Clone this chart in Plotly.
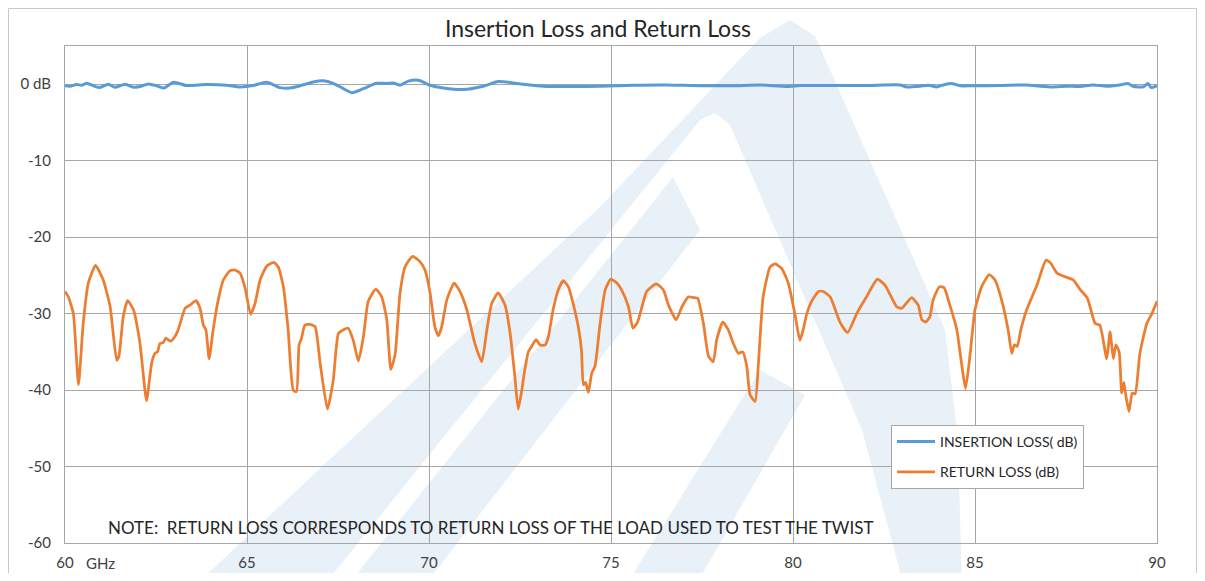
import plotly.graph_objects as go

# ---------------- data ----------------
il_freq = [60.00, 60.14, 60.32, 60.46, 60.60, 60.78, 60.96, 61.19, 61.37, 61.65, 61.88, 62.06,
           62.29, 62.52, 62.72, 62.98, 63.34, 63.89, 64.44, 64.81, 65.17, 65.54, 65.91, 66.18,
           66.46, 66.82, 67.10, 67.37, 67.60, 67.88, 68.20, 68.56, 68.84, 69.02, 69.20, 69.43,
           69.71, 70.03, 70.39, 70.94, 71.49, 71.90, 72.41, 73.14, 73.96, 74.70, 75.61, 76.53,
           77.45, 78.37, 79.09, 79.83, 80.19, 81.10, 82.02, 82.94, 83.12, 83.49, 83.72, 83.95,
           84.13, 84.36, 84.59, 84.95, 85.69, 86.42, 86.79, 87.15, 87.52, 87.88, 88.25, 88.61,
           88.98, 89.20, 89.34, 89.62, 89.75, 89.84, 90.00]
il_db = [-0.20, -0.26, -0.04, -0.13, 0.13, -0.20, -0.44, 0.00, -0.40, 0.00, -0.40, -0.30,
         0.04, -0.20, -0.50, 0.26, -0.17, -0.04, -0.13, -0.35, -0.17, 0.26, -0.44, -0.50,
         -0.20, 0.30, 0.44, 0.10, -0.44, -1.10, -0.57, 0.13, 0.10, 0.17, -0.13, 0.40,
         0.52, -0.13, -0.48, -0.70, -0.26, 0.35, 0.10, -0.26, -0.30, -0.26, -0.13, -0.09,
         -0.20, -0.20, -0.09, -0.30, -0.17, -0.17, -0.17, -0.09, -0.35, -0.26, -0.13, -0.35,
         -0.09, 0.09, -0.20, -0.20, -0.17, -0.09, -0.26, -0.35, -0.26, -0.30, -0.09, -0.26,
         -0.09, 0.09, -0.26, -0.35, 0.09, -0.44, -0.17]

rl_freq = [60.00, 60.09, 60.23, 60.37, 60.50, 60.64, 60.84, 61.05, 61.24, 61.42, 61.48, 61.60,
           61.72, 61.88, 62.06, 62.24, 62.38, 62.47, 62.54, 62.61, 62.70, 62.77, 62.90, 63.02,
           63.11, 63.30, 63.43, 63.60, 63.71, 63.80, 63.87, 63.96, 64.07, 64.21, 64.35, 64.53,
           64.67, 64.81, 64.95, 65.10, 65.22, 65.36, 65.54, 65.74, 65.86, 66.00, 66.13, 66.27,
           66.36, 66.43, 66.50, 66.59, 66.73, 66.87, 67.01, 67.21, 67.37, 67.51, 67.65, 67.78,
           67.92, 68.06, 68.20, 68.33, 68.54, 68.70, 68.84, 68.95, 69.07, 69.20, 69.34, 69.55,
           69.75, 69.89, 70.03, 70.16, 70.26, 70.35, 70.49, 70.69, 70.85, 71.04, 71.26, 71.45,
           71.59, 71.72, 71.90, 72.09, 72.23, 72.36, 72.45, 72.55, 72.61, 72.73, 72.82, 72.94,
           73.05, 73.19, 73.28, 73.41, 73.55, 73.69, 73.83, 73.96, 74.10, 74.19, 74.24, 74.30,
           74.38, 74.47, 74.56, 74.70, 74.84, 74.99, 75.16, 75.29, 75.48, 75.60, 75.73, 75.85,
           75.98, 76.24, 76.44, 76.58, 76.79, 76.95, 77.13, 77.27, 77.38, 77.54, 77.68, 77.81,
           77.90, 78.07, 78.22, 78.36, 78.50, 78.62, 78.73, 78.82, 78.96, 79.05, 79.18, 79.37,
           79.51, 79.69, 79.87, 80.05, 80.19, 80.28, 80.38, 80.51, 80.70, 80.83, 81.02, 81.29,
           81.50, 81.75, 82.02, 82.32, 82.53, 82.85, 82.99, 83.26, 83.44, 83.54, 83.65, 83.76,
           83.85, 84.02, 84.15, 84.31, 84.50, 84.63, 84.74, 84.86, 85.00, 85.18, 85.39, 85.55,
           85.73, 85.91, 86.01, 86.08, 86.16, 86.26, 86.42, 86.70, 86.95, 87.08, 87.25, 87.43,
           87.70, 87.88, 88.09, 88.30, 88.43, 88.62, 88.71, 88.80, 88.87, 88.96, 89.03, 89.09,
           89.14, 89.23, 89.32, 89.40, 89.53, 89.72, 89.86, 90.00]
rl_db = [-27.1, -27.8, -30.0, -39.3, -31.3, -26.0, -23.7, -25.6, -29.1, -36.1, -35.6, -30.4,
         -28.3, -29.5, -33.9, -41.4, -36.5, -35.2, -35.0, -33.9, -33.8, -33.2, -33.6, -33.0,
         -32.1, -29.3, -28.9, -28.3, -29.3, -31.5, -32.1, -35.9, -32.1, -28.2, -25.6, -24.4,
         -24.3, -24.7, -26.7, -30.1, -28.7, -25.6, -23.8, -23.3, -23.9, -26.5, -32.1, -40.0,
         -40.2, -34.1, -33.2, -31.5, -31.4, -31.7, -36.5, -42.5, -38.7, -32.6, -32.1, -31.9,
         -33.5, -36.2, -33.0, -28.4, -26.8, -27.8, -30.8, -37.3, -35.3, -27.5, -23.9, -22.5,
         -23.2, -24.3, -27.3, -31.7, -32.9, -31.7, -28.2, -26.0, -27.1, -29.5, -33.9, -36.3,
         -32.1, -28.7, -27.3, -28.9, -32.6, -38.3, -42.5, -40.0, -38.0, -35.0, -34.3, -33.4,
         -34.1, -34.1, -33.0, -29.5, -26.9, -25.7, -26.5, -28.7, -31.7, -34.8, -39.3, -39.0,
         -40.3, -37.8, -36.9, -31.3, -26.9, -25.5, -26.0, -26.9, -29.1, -31.9, -31.1, -29.1,
         -27.1, -26.1, -26.9, -28.9, -30.8, -29.1, -27.8, -27.9, -28.0, -31.3, -35.6, -36.3,
         -33.5, -31.1, -32.1, -33.9, -35.2, -35.0, -36.9, -40.6, -41.5, -36.5, -27.8, -23.9,
         -23.5, -24.1, -26.0, -30.0, -33.5, -32.1, -30.0, -28.4, -27.1, -27.1, -27.8, -31.1,
         -32.5, -30.0, -27.8, -25.5, -26.3, -29.1, -29.3, -27.9, -28.9, -30.8, -31.1, -30.4,
         -28.2, -26.5, -26.6, -28.9, -32.1, -36.5, -39.8, -35.6, -29.5, -26.5, -24.9, -25.6,
         -28.2, -32.1, -35.2, -34.1, -34.3, -32.1, -29.5, -26.3, -23.0, -23.4, -24.7, -25.1,
         -25.6, -26.8, -28.0, -31.3, -31.5, -35.9, -32.4, -35.9, -34.1, -35.0, -40.4, -39.0,
         -40.6, -42.8, -40.4, -40.5, -35.2, -31.3, -30.0, -28.4]

x_ticks = [60, 65, 70, 75, 80, 85, 90]
y_ticks = [0, -10, -20, -30, -40, -50, -60]
y_ticktext = ["0 dB", "-10", "-20", "-30", "-40", "-50", "-60"]

title_text = "Insertion Loss and Return Loss"
note_text = "NOTE:  RETURN LOSS CORRESPONDS TO RETURN LOSS OF THE LOAD USED TO TEST THE TWIST"
il_name = "INSERTION LOSS( dB)"
rl_name = "RETURN LOSS (dB)"

# ---------------- layout geometry ----------------
OFF = 8                      # page body margin of the html page
W, H = 1205 - 2 * OFF, 581 - 2 * OFF
L, R, T, B = 65 - OFF, 1157 - OFF, 46 - OFF, 543 - OFF   # plot area in figure px


def px(xr, yr):
    """reference-screen px -> paper coords"""
    return (xr - OFF - L) / (R - L), (B - (yr - OFF)) / (B - T)


def path_from(points):
    s = ""
    for i, (a, b) in enumerate(points):
        xx, yy = px(a, b)
        s += ("M" if i == 0 else "L") + f"{xx:.4f},{yy:.4f} "
    return s + "Z"


BLUE = "#5b9bd5"
ORANGE = "#ed7d31"
GRID = "#a6a6a6"
TXT = "#404040"
WM = "#e8f0f8"
FONT = "Lato, 'Open Sans', sans-serif"

fig = go.Figure()
fig.add_trace(go.Scatter(x=il_freq, y=il_db, mode="lines", name=il_name, legendgroup="a",
                         line=dict(color=BLUE, width=3, shape="spline", smoothing=0.6)))
fig.add_trace(go.Scatter(x=rl_freq, y=rl_db, mode="lines", name=rl_name, legendgroup="b",
                         line=dict(color=ORANGE, width=2.75, shape="spline", smoothing=0.5)))

# faint background logo (watermark)
band_a = [(190, 590), (600, 207), (760, 38), (790, 20), (815, 36), (945, 330), (958, 440),
          (962, 590), (905, 590), (862, 430), (730, 125), (715, 113), (700, 120), (320, 590)]
band_b = [(344, 590), (673, 177), (700, 230), (421, 590)]
band_c = [(623, 590), (760, 370), (805, 395), (693, 590)]
shapes = []
for pts in (band_a, band_b, band_c):
    shapes.append(dict(type="path", xref="paper", yref="paper", path=path_from(pts),
                       fillcolor=WM, line=dict(width=0), layer="below"))
# outer chart frame
fx0, fy1 = px(OFF + 0.5, OFF + 0.5)
fx1, fy0 = px(1205 - OFF - 0.5, 620)
shapes.append(dict(type="rect", xref="paper", yref="paper", x0=fx0, x1=fx1, y0=fy0, y1=fy1,
                   line=dict(color="#c8c8c8", width=1), fillcolor="rgba(0,0,0,0)", layer="below"))

gx, gy = px(100, 563)
nx, ny = px(106, 527)
lx, ly = px(891, 425)

fig.update_layout(
    width=W, height=H,
    margin=dict(l=L, r=W - R, t=T, b=H - B, autoexpand=False),
    paper_bgcolor="white", plot_bgcolor="rgba(0,0,0,0)",
    font=dict(family=FONT, color=TXT),
    title=dict(text=title_text, x=(598 - OFF) / W, xref="container", xanchor="center",
               y=1 - (29 - OFF) / H, yref="container", yanchor="middle",
               font=dict(size=23, color="#262626", family=FONT), automargin=False),
    shapes=shapes,
    showlegend=True,
    legend=dict(x=lx, y=ly, xanchor="left", yanchor="top", bgcolor="white",
                bordercolor=GRID, borderwidth=1, font=dict(size=14, color="#262626"),
                tracegroupgap=9, traceorder="grouped", itemwidth=38),
    annotations=[
        dict(text="GHz", xref="paper", yref="paper", x=gx, y=gy, xanchor="center",
             yanchor="middle", showarrow=False, font=dict(size=15, color=TXT)),
        dict(text=note_text, xref="paper", yref="paper", x=nx, y=ny, xanchor="left",
             yanchor="middle", showarrow=False, font=dict(size=17, color="#262626")),
    ],
)
fig.update_xaxes(range=[60, 90], tickvals=x_ticks, ticktext=[str(v) for v in x_ticks],
                 showgrid=True, gridcolor=GRID, gridwidth=1, zeroline=False, automargin=False,
                 showline=True, linecolor=GRID, linewidth=1, mirror=True, ticks="",
                 ticklabelstandoff=6, tickfont=dict(size=15, color=TXT))
fig.update_yaxes(range=[-60, 5], tickvals=y_ticks, ticktext=y_ticktext,
                 showgrid=True, gridcolor=GRID, gridwidth=1, zeroline=False, automargin=False,
                 showline=True, linecolor=GRID, linewidth=1, mirror=True, ticks="",
                 ticklabelstandoff=10, tickfont=dict(size=15, color=TXT))

fig.write_html("out.html")
